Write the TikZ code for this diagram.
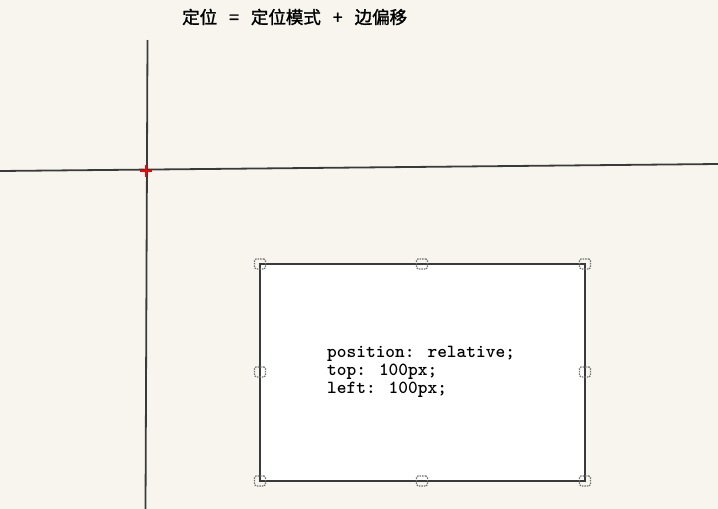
\documentclass[tikz,border=0pt]{standalone}
\usepackage{fontspec}
\newfontfamily\cjk[FakeBold=1.5]{Noto Sans CJK SC}
\definecolor{bg}{HTML}{F8F5EE}
\definecolor{ln}{HTML}{3A3A3A}
\definecolor{hd}{HTML}{707070}
\begin{document}
\begin{tikzpicture}[x=1pt,y=-1pt,
  axis/.style={draw=ln,line width=1.8pt},
  handle/.style={draw=hd,dash pattern=on 1.5pt off 1pt,line width=1.1pt,rounded corners=1.5pt,minimum width=11pt,minimum height=10pt,inner sep=0pt,fill=none},
  boxstyle/.style={draw=ln,line width=2pt,fill=white}]
\fill[bg] (0,0) rectangle (718,509);
\useasboundingbox (0,0) rectangle (718,509);
\node[font=\cjk\fontsize{17.5}{19}\selectfont,anchor=west,inner sep=0pt] (title) at (182,17) {定位\hspace{12pt}=\hspace{12pt}定位模式\hspace{12pt}+\hspace{12pt}边偏移};
\coordinate (hl) at (0,171);
\coordinate (hr) at (718,164);
\coordinate (vt) at (147.5,40);
\coordinate (vb) at (145.5,509);
\draw[axis] (hl) -- (hr);
\draw[axis] (vt) -- (vb);
\coordinate (origin) at (146,170.5);
\draw[red,line width=2pt] ([xshift=-6pt]origin) -- ([xshift=6pt]origin);
\draw[red,line width=2pt] ([yshift=-6pt]origin) -- ([yshift=6pt]origin);
\coordinate (tl) at (260,264);
\coordinate (br) at (585,481);
\draw[boxstyle] (tl) rectangle (br);
\node[font=\ttfamily\bfseries\fontsize{18.5}{18}\selectfont,anchor=north west,align=left,inner sep=0pt] (code) at (327,346) {position: relative;\\top: 100px;\\left: 100px;};
\foreach \n/\p in {a/{(260,264)},b/{(422,264)},c/{(585,264)},d/{(260,372)},e/{(585,372)},f/{(260,481)},g/{(422,481)},h/{(585,481)}}
  \node[handle] (h\n) at \p {};
\end{tikzpicture}
\end{document}
